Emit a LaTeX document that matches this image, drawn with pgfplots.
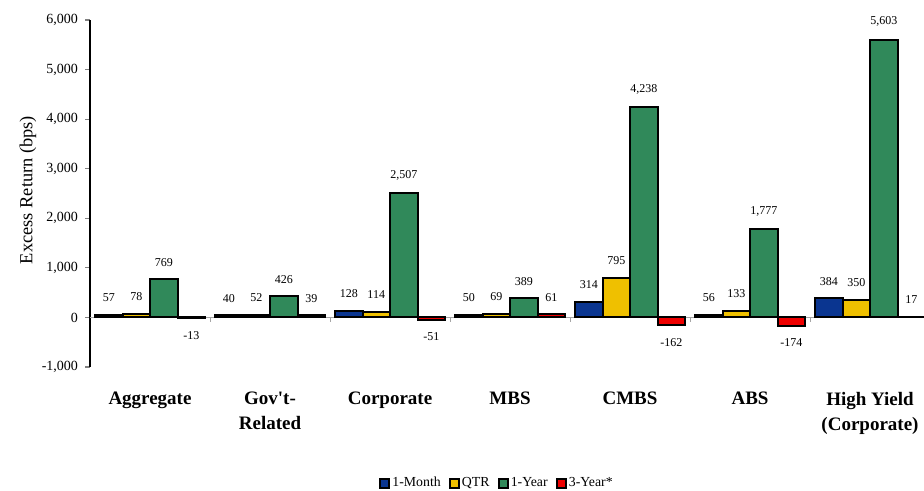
\documentclass[border=0pt]{standalone}
\usepackage{pgfplots}
\pgfplotsset{compat=1.18}
\usepackage{fontspec}
\setmainfont{Liberation Serif}[Ligatures=TeXOff]

\definecolor{month}{HTML}{0A3590}
\definecolor{qtr}{HTML}{EFC000}
\definecolor{year}{HTML}{30895A}
\definecolor{three}{HTML}{EE0000}

\pgfkeys{/pgf/number format/1000 sep={,}}

\begin{document}
\begin{tikzpicture}
\useasboundingbox (0,0) rectangle (462pt,245.5pt);
\begin{axis}[
  at={(45pt,62pt)}, anchor=south west,
  scale only axis, width=417pt, height=173.5pt,
  xmin=-0.5, xmax=6.45,
  ymin=-1000, ymax=6000,
  ytick={-1000,0,1000,2000,3000,4000,5000,6000},
  ybar=0pt, bar width=13.75pt,
  axis y line*=left, axis x line*=bottom,
  x axis line style={draw=none},
  y axis line style={line width=0.6pt},
  xtick={0,1,2,3,4,5,6},
  xticklabels={Aggregate,{Gov't-\\Related},Corporate,MBS,CMBS,ABS,{High Yield\\(Corporate)}},
  major x tick style={draw=none},
  xticklabel style={font=\fontsize{9.5}{12.5}\selectfont\bfseries, align=center,
    anchor=north, inner sep=0pt, yshift=-10pt},
  tick align=outside,
  major tick length=2.5pt,
  ytick style={line width=0.6pt},
  yticklabel style={font=\fontsize{7}{8}\selectfont},
  /pgf/number format/assume math mode=true,
  ylabel={Excess Return (bps)},
  every axis y label/.style={at={(axis description cs:0,0.51)}, xshift=-31pt,
    rotate=90, anchor=center, font=\fontsize{9.2}{11}\selectfont},
  nodes near coords,
  nodes near coords align=vertical,
  every node near coord/.append style={font=\fontsize{6}{7}\selectfont, inner sep=6pt, black},
  clip=false,
  legend columns=4,
  legend style={at={(0.488,-0.335)}, anchor=center, draw=none, fill=none,
    font=\fontsize{6.9}{8}\selectfont,
    /tikz/every even column/.append style={column sep=3pt},
    nodes={inner sep=1pt}},
  legend image code/.code={\draw[#1, draw=black, line width=1pt] (0pt,-2.3pt) rectangle (4.6pt,2.3pt);},
]
% zero line with gray boundary ticks
\draw[gray!70, line width=0.5pt] (axis cs:-0.5,0) -- (axis cs:6.45,0);
\pgfplotsinvokeforeach{0.5,1.5,2.5,3.5,4.5,5.5}{
  \draw[gray!70, line width=0.5pt] (axis cs:#1,0) -- ([yshift=-2.2pt]axis cs:#1,0);
}

\addplot[draw=black, line width=1pt, fill=month]
  coordinates {(0,57)(1,40)(2,128)(3,50)(4,314)(5,56)(6,384)};
\addplot[draw=black, line width=1pt, fill=qtr]
  coordinates {(0,78)(1,52)(2,114)(3,69)(4,795)(5,133)(6,350)};
\addplot[draw=black, line width=1pt, fill=year]
  coordinates {(0,769)(1,426)(2,2507)(3,389)(4,4238)(5,1777)(6,5603)};
\addplot[draw=black, line width=1pt, fill=three]
  coordinates {(0,-13)(1,39)(2,-51)(3,61)(4,-162)(5,-174)(6,17)};
\legend{1-Month,QTR,1-Year,3-Year*}
\end{axis}
\end{tikzpicture}
\end{document}
